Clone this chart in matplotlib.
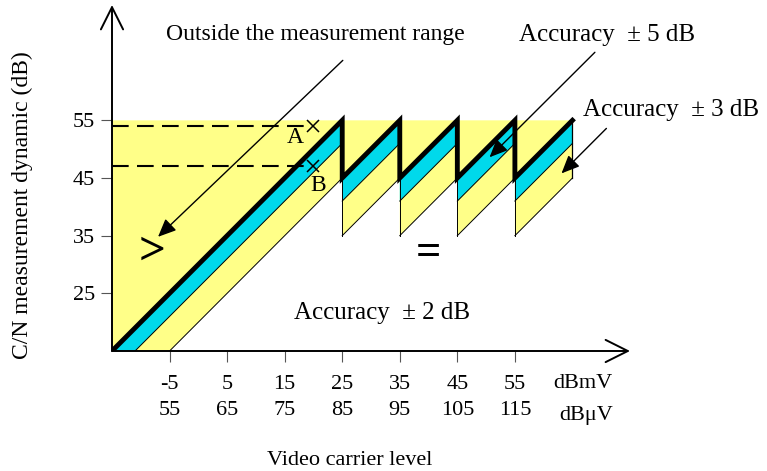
import matplotlib.pyplot as plt
from matplotlib.patches import Polygon

plt.rcParams['font.family'] = ['Liberation Serif', 'DejaVu Serif']

# axis values
level_dbmv = [-5, 5, 15, 25, 35, 45, 55]
level_dbuv = [55, 65, 75, 85, 95, 105, 115]
cn_ticks = [25, 35, 45, 55]

# thick measurement curve (dBmV, dB)
saw_x = [-15, 25, 25, 35, 35, 45, 45, 55, 55, 65]
saw_y = [15, 55, 45, 55, 45, 55, 45, 55, 45, 55]
tooth_starts = [25, 35, 45, 55]
cn_max = 55
cn_min = 45
cyan_depth = 4
yellow_depth = 10

# reference points
point_a = (20, 54)
point_b = (20, 47)

yellow = '#FFFF88'
cyan = '#00D9EB'

fig = plt.figure(figsize=(7.67, 4.71), dpi=100)
ax = fig.add_axes([112 / 767, (471 - 351) / 471, 518 / 767, 346 / 471])
ax.set_xlim(-15, 75)
ax.set_ylim(15, 75)

x0, y0 = saw_x[0], saw_y[0]
x_end = saw_x[-1]

# yellow background region
ybound = [(x0, y0), (x0 + yellow_depth, y0), (tooth_starts[0], cn_min)]
for k in tooth_starts:
    ybound += [(k, cn_min - yellow_depth), (k + 10, cn_min)]
ybound += [(x_end, cn_max), (x0, cn_max)]
ax.add_patch(Polygon(ybound, closed=True, fc=yellow, ec='none', zorder=1))

# cyan strips below the curve
ax.add_patch(Polygon([(x0, y0), (tooth_starts[0], cn_max), (tooth_starts[0], cn_max - cyan_depth),
                      (x0 + cyan_depth, y0)], closed=True, fc=cyan, ec='none', zorder=2))
ax.plot([x0 + cyan_depth, tooth_starts[0]], [y0, cn_max - cyan_depth], color='black', lw=0.7, zorder=3)
for k in tooth_starts:
    ax.add_patch(Polygon([(k, cn_min), (k + 10, cn_max), (k + 10, cn_max - cyan_depth),
                          (k, cn_min - cyan_depth)], closed=True, fc=cyan, ec='none', zorder=2))
    ax.plot([k, k + 10], [cn_min - cyan_depth, cn_max - cyan_depth], color='black', lw=0.7, zorder=3)
    ax.plot([k, k + 10], [cn_min - yellow_depth, cn_min], color='black', lw=0.7, zorder=3)
    ax.plot([k, k], [cn_min, cn_min - yellow_depth], color='black', lw=0.7, zorder=3)
ax.plot([x0 + yellow_depth, tooth_starts[0]], [y0, cn_min], color='black', lw=0.7, zorder=3)
ax.plot([x_end, x_end], [cn_max, cn_min], color='black', lw=0.9, zorder=3)

# thick curve
ax.plot(saw_x, saw_y, color='black', lw=3.5, solid_joinstyle='miter', zorder=4)

# dashed references and points
for (px, py), name, off in [(point_a, 'A', (-3.1, -2.0)), (point_b, 'B', (0.9, -3.3))]:
    ax.plot([x0, px - 1.2], [py, py], color='black', lw=1.5, dashes=(8, 4), zorder=5)
    ax.plot(px, py, marker='x', color='black', ms=8, mew=1.1, zorder=6)
    ax.text(px + off[0], py + off[1], name, fontsize=17, ha='center', va='center', zorder=6)

# symbols
ax.text(-8.1, 32, '>', fontsize=34, fontweight='bold', ha='center', va='center', zorder=6)
ax.text(40, 32, '=', fontsize=32, fontweight='bold', ha='center', va='center', zorder=6)

# annotations
arrow = dict(arrowstyle='-|>,head_length=0.5,head_width=0.22', color='black', lw=1.0,
             mutation_scale=22, shrinkA=0, shrinkB=0)
ax.text(20.4, 69.9, 'Outside the measurement range', fontsize=17, ha='center', va='center')
ax.annotate('', xy=(-7.0, 34.8), xytext=(25.1, 65.4), arrowprops=arrow, zorder=7)
ax.text(71.1, 69.8, 'Accuracy  \u00b1 5 dB', fontsize=18, ha='center', va='center', clip_on=False)
ax.annotate('', xy=(50.6, 48.6), xytext=(68.9, 66.8), arrowprops=arrow, zorder=7)
ax.text(82.2, 56.8, 'Accuracy  \u00b1 3 dB', fontsize=18, ha='center', va='center', clip_on=False)
ax.annotate('', xy=(63.1, 45.8), xytext=(70.9, 53.6), arrowprops=arrow, zorder=7)
ax.text(31.9, 21.6, 'Accuracy  \u00b1 2 dB', fontsize=18, ha='center', va='center')

# axes with arrow heads
for s in ['top', 'right', 'left', 'bottom']:
    ax.spines[s].set_visible(False)
axis_arrow = dict(arrowstyle='->,head_length=0.8,head_width=0.4', color='black', lw=1.4,
                  mutation_scale=20, shrinkA=0, shrinkB=0)
ax.annotate('', xy=(0, 1), xytext=(0, 0), xycoords='axes fraction', arrowprops=axis_arrow, zorder=8)
ax.annotate('', xy=(1, 0), xytext=(0, 0), xycoords='axes fraction', arrowprops=axis_arrow, zorder=8)

ax.set_xticks(level_dbmv)
ax.set_xticklabels([f'{a}\n{b}' for a, b in zip(level_dbmv, level_dbuv)], fontsize=16)
for lab in ax.get_xticklabels():
    lab.set_linespacing(1.5)
ax.set_yticks(cn_ticks)
ax.set_yticklabels([str(v) for v in cn_ticks], fontsize=16)
ax.tick_params(axis='both', direction='out', length=8, width=0.8, color='#555555', pad=9)
ax.tick_params(axis='y', pad=4)

ax.text(72, 9.4, 'dBmV', fontsize=16, ha='right', va='center', clip_on=False)
ax.text(72, 3.8, 'dB\u03bcV', fontsize=16, ha='right', va='center', clip_on=False)
ax.text(26.3, -4.0, 'Video carrier level', fontsize=16, ha='center', va='center', clip_on=False)
ax.text(-30.6, 40.3, 'C/N measurement dynamic (dB)', fontsize=17, rotation=90,
        ha='center', va='center', clip_on=False)

fig.savefig('out.png', dpi=100)
